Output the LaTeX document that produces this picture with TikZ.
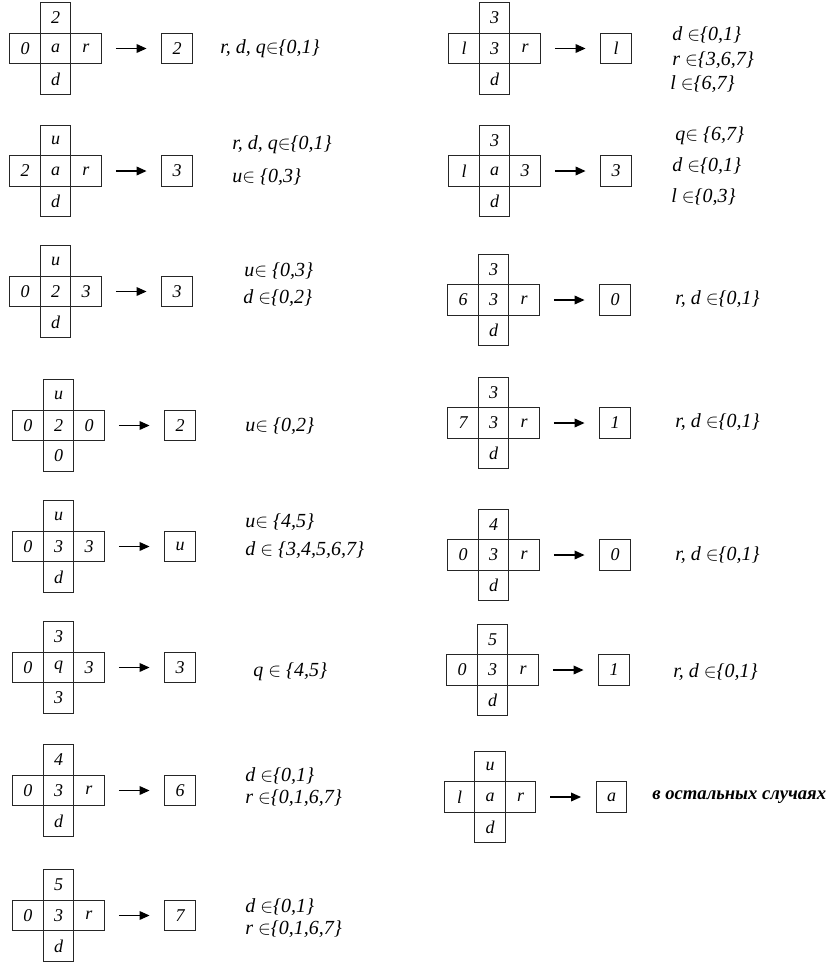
\documentclass[tikz,border=0pt]{standalone}
\usepackage{fontspec}
\setmainfont{Liberation Serif}
\usetikzlibrary{arrows.meta}
\newcommand\inn{\ensuremath{\in}}
\tikzset{
  cell/.style={draw=black!85, line width=0.75pt, minimum width=22.9pt, minimum height=22.9pt,
    inner sep=0pt, font=\fontsize{13.5}{15}\selectfont\itshape},
  cond/.style={anchor=west, inner sep=0pt, font=\fontsize{15}{17}\selectfont\itshape},
  arr/.style={line width=1pt, -{Triangle[length=7.5pt,width=6.5pt]}, shorten <=10.5pt, shorten >=11pt}
}
% #1 name, #2 cx, #3 cy, #4 up, #5 left, #6 center, #7 right, #8 down, #9 result
\newcommand\xrule[9]{%
  \node[cell] (#1c) at (#2,#3) {#6};
  \node[cell] (#1u) at (#2,#3-30.5) {#4};
  \node[cell] (#1d) at (#2,#3+30.5) {#8};
  \node[cell] (#1l) at (#2-30.5,#3) {#5};
  \node[cell] (#1r) at (#2+30.5,#3) {#7};
  \node[cell] (#1res) at (#2+121.5,#3) {#9};
  \draw[arr] (#1r) -- (#1res);
}
\begin{document}
\begin{tikzpicture}[x=0.75pt,y=-0.75pt]
\path[use as bounding box, fill=white] (0,0) rectangle (832,968);
% left column
\xrule{La}{55.5}{48.5}{2}{0}{a}{r}{d}{2}
\node[cond] (La1) at (220,49) {r, d, q\inn\{0,1\}};
\xrule{Lb}{55.5}{171}{u}{2}{a}{r}{d}{3}
\node[cond] (Lb1) at (232,145) {r, d, q\inn\{0,1\}};
\node[cond] (Lb2) at (232,177) {u\inn\ \{0,3\}};
\xrule{Lc}{55.5}{291.5}{u}{0}{2}{3}{d}{3}
\node[cond] (Lc1) at (244,271) {u\inn\ \{0,3\}};
\node[cond] (Lc2) at (243,298) {d \inn\{0,2\}};
\xrule{Ld}{58.5}{425.5}{u}{0}{2}{0}{0}{2}
\node[cond] (Ld1) at (245,426) {u\inn\ \{0,2\}};
\xrule{Le}{58.5}{546.5}{u}{0}{3}{3}{d}{u}
\node[cond] (Le1) at (245,522) {u\inn\ \{4,5\}};
\node[cond] (Le2) at (245,550) {d \inn\ \{3,4,5,6,7\}};
\xrule{Lf}{58.5}{667.5}{3}{0}{q}{3}{3}{3}
\node[cond] (Lf1) at (253,672) {q \inn\ \{4,5\}};
\xrule{Lg}{58.5}{790.5}{4}{0}{3}{r}{d}{6}
\node[cond] (Lg1) at (245,776) {d \inn\{0,1\}};
\node[cond] (Lg2) at (245,798) {r \inn\{0,1,6,7\}};
\xrule{Lh}{58.5}{915.5}{5}{0}{3}{r}{d}{7}
\node[cond] (Lh1) at (245,907) {d \inn\{0,1\}};
\node[cond] (Lh2) at (245,929) {r \inn\{0,1,6,7\}};
% right column
\xrule{Ra}{494.5}{48.5}{3}{l}{3}{r}{d}{l}
\node[cond] (Ra1) at (672,35) {d \inn\{0,1\}};
\node[cond] (Ra2) at (672,60) {r \inn\{3,6,7\}};
\node[cond] (Ra3) at (670,84) {l \inn\{6,7\}};
\xrule{Rb}{494.5}{171}{3}{l}{a}{3}{d}{3}
\node[cond] (Rb1) at (675,136) {q\inn\ \{6,7\}};
\node[cond] (Rb2) at (672,166) {d \inn\{0,1\}};
\node[cond] (Rb3) at (671,197) {l \inn\{0,3\}};
\xrule{Rc}{493.5}{300}{3}{6}{3}{r}{d}{0}
\node[cond] (Rc1) at (675,299) {r, d \inn\{0,1\}};
\xrule{Rd}{493.5}{423}{3}{7}{3}{r}{d}{1}
\node[cond] (Rd1) at (675,422) {r, d \inn\{0,1\}};
\xrule{Re}{493.5}{555}{4}{0}{3}{r}{d}{0}
\node[cond] (Re1) at (675,555) {r, d \inn\{0,1\}};
\xrule{Rf}{492.5}{670}{5}{0}{3}{r}{d}{1}
\node[cond] (Rf1) at (673,672) {r, d \inn\{0,1\}};
\xrule{Rg}{490}{797}{u}{l}{a}{r}{d}{a}
\node[cond, font=\fontsize{14}{16}\selectfont\bfseries\itshape] (Rg1) at (652,797) {в остальных случаях};
\end{tikzpicture}
\end{document}
